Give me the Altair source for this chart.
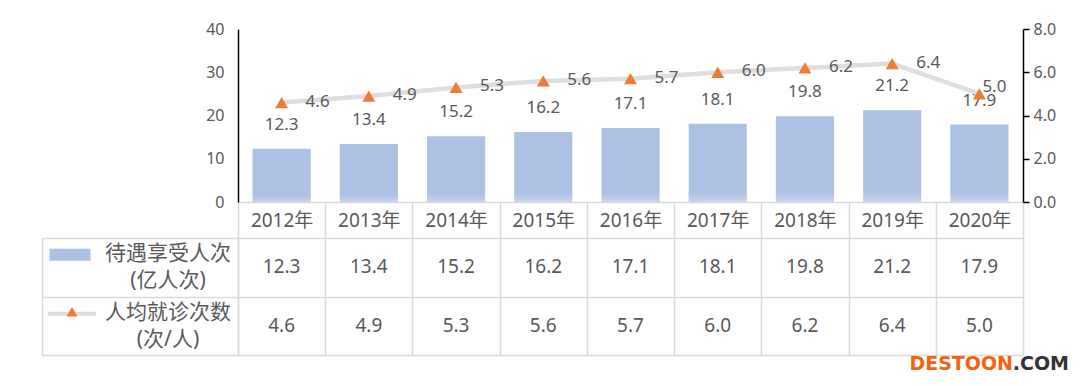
import altair as alt
import pandas as pd

years = ["2012年", "2013年", "2014年", "2015年", "2016年", "2017年", "2018年", "2019年", "2020年"]
visits = [12.3, 13.4, 15.2, 16.2, 17.1, 18.1, 19.8, 21.2, 17.9]
per_capita = [4.6, 4.9, 5.3, 5.6, 5.7, 6.0, 6.2, 6.4, 5.0]
row_keys = ["r1", "r2"]
row_labels = ["待遇享受人次\n(亿人次)", "人均就诊次数\n(次/人)"]
left_ticks = [0, 10, 20, 30, 40]
right_ticks = [0, 2, 4, 6, 8]

FONT = "Noto Sans, Noto Sans CJK SC"
TXT = "#595959"
GRID = "#d9d9d9"
ORANGE = "#ed7d31"
LINE = "#dedede"

W_PLOT, H_PLOT, W_LEG, H_TAB = 785, 173, 196, 117

df = pd.DataFrame({"year": years, "visits": visits, "pc": per_capita})
tab = pd.DataFrame({
    "year": years * 2,
    "row": [row_keys[0]] * len(years) + [row_keys[1]] * len(years),
    "v": visits + per_capita,
})
leg = pd.DataFrame({"row": row_keys, "label": row_labels, "col": ["c", "c"]})

xscale = alt.Scale(domain=years, paddingInner=0, paddingOuter=0)
xaxis_main = alt.Axis(
    title=None, orient="bottom", domainColor=GRID, domainWidth=1.5,
    ticks=True, tickBand="extent", tickSize=36, tickColor=GRID, tickWidth=1.5,
    labelPadding=-27, labelFontSize=19, labelColor=TXT, labelAngle=0,
    labelBaseline="top",
)


def XM():
    return alt.X("year:N", scale=xscale, axis=xaxis_main)


lscale = alt.Scale(domain=[0, 40], nice=False, zero=True)
laxis = alt.Axis(
    title=None, values=left_ticks, domainColor="#000000", domainWidth=1.5,
    ticks=False, labelPadding=14, grid=False, labelFontSize=16, labelColor=TXT,
)
rscale = alt.Scale(domain=[0, 8], nice=False, zero=True)
raxis = alt.Axis(
    title=None, orient="right", values=right_ticks, format=".1f",
    domainColor="#000000", domainWidth=1.5, tickColor="#000000", tickSize=6,
    tickWidth=1.5, labelPadding=4, grid=False, labelFontSize=16, labelColor=TXT,
)

base = alt.Chart(df)
bar_fill = alt.Gradient(
    gradient="linear",
    stops=[alt.GradientStop(color="#adc1e5", offset=0),
           alt.GradientStop(color="#adc1e5", offset=0.88),
           alt.GradientStop(color="#c8d5ee", offset=1)],
    x1=0, x2=0, y1=0, y2=1,
)
bars = base.mark_bar(width={"band": 0.667}, color=bar_fill).encode(
    x=XM(), y=alt.Y("visits:Q", scale=lscale, axis=laxis)
)
bar_txt = base.mark_text(dy=-24, baseline="middle", fontSize=17, color=TXT).encode(
    x=XM(), y=alt.Y("visits:Q", scale=lscale, axis=laxis),
    text=alt.Text("visits:Q", format=".1f"),
)
line = base.mark_line(color=LINE, strokeWidth=4.5).encode(
    x=XM(), y=alt.Y("pc:Q", scale=rscale, axis=raxis)
)
pts = base.mark_point(shape="triangle-up", size=169, filled=True, color=ORANGE, opacity=1).encode(
    x=XM(), y=alt.Y("pc:Q", scale=rscale, axis=raxis)
)
ltxt = base.mark_text(align="left", baseline="middle", dx=24, dy=-1, fontSize=17, color=TXT).encode(
    x=XM(), y=alt.Y("pc:Q", scale=rscale, axis=raxis),
    text=alt.Text("pc:Q", format=".1f"),
).transform_filter(alt.datum.year != years[-1])
ltxt_last = base.mark_text(align="left", baseline="middle", dx=3, dy=-7, fontSize=17, color=TXT).encode(
    x=XM(), y=alt.Y("pc:Q", scale=rscale, axis=raxis),
    text=alt.Text("pc:Q", format=".1f"),
).transform_filter(alt.datum.year == years[-1])

main = alt.layer(
    alt.layer(bars, bar_txt),
    alt.layer(line, pts, ltxt, ltxt_last),
).resolve_scale(y="independent").properties(width=W_PLOT, height=H_PLOT)

# ---- data table ----
gaxis = alt.Axis(
    title=None, labels=False, ticks=False, domain=False, grid=True,
    tickBand="extent", gridColor=GRID, gridWidth=1.5,
)
yscale_t = alt.Scale(domain=row_keys, paddingInner=0, paddingOuter=0)
tbase = alt.Chart(tab)
tab_txt = tbase.mark_text(fontSize=19, color=TXT, baseline="middle").encode(
    x=alt.X("year:N", scale=xscale, axis=gaxis),
    y=alt.Y("row:N", scale=yscale_t, axis=gaxis),
    text=alt.Text("v:Q", format=".1f"),
)
wm = pd.DataFrame({"t": ["DESTOON"]})
wm1 = alt.Chart(wm).mark_text(
    text="DESTOON", align="right", baseline="middle", fontSize=19, fontWeight="bold",
    color="#f5620f", font="DejaVu Sans",
).encode(x=alt.value(775), y=alt.value(126))
wm2 = alt.Chart(wm).mark_text(
    text=".COM", align="right", baseline="middle", fontSize=19, fontWeight="bold",
    color="#333333", font="DejaVu Sans",
).encode(x=alt.value(831), y=alt.value(126))
table = alt.layer(tab_txt, wm1, wm2).properties(width=W_PLOT, height=H_TAB)

# ---- legend column ----
lbase = alt.Chart(leg)
lx = alt.X("col:N", scale=alt.Scale(domain=["c"], paddingInner=0, paddingOuter=0), axis=gaxis)
ly = alt.Y("row:N", scale=yscale_t, axis=gaxis)
leg_txt = lbase.mark_text(lineBreak="\n", lineHeight=27, fontSize=21, color=TXT, dx=28, dy=-13,
                          baseline="middle").encode(x=lx, y=ly, text="label:N")
sw_bar = lbase.mark_point(
    shape="M-1,-0.903L1,-0.903L1,-0.317L-1,-0.317Z", size=1681, filled=True,
    color="#adc1e5", opacity=1,
).encode(x=alt.value(28), y=ly).transform_filter(alt.datum.row == row_keys[0])
sw_line = lbase.mark_point(
    shape="M-1,-0.58L1,-0.58L1,-0.42L-1,-0.42Z", size=2304, filled=True,
    color=LINE, opacity=1,
).encode(x=alt.value(30), y=ly).transform_filter(alt.datum.row == row_keys[1])
sw_tri = lbase.mark_point(
    shape="M0,-0.78L0.23,-0.39L-0.23,-0.39Z", size=2304, filled=True,
    color=ORANGE, opacity=1,
).encode(x=alt.value(30), y=ly).transform_filter(alt.datum.row == row_keys[1])
legend = alt.layer(leg_txt, sw_bar, sw_line, sw_tri).properties(width=W_LEG, height=H_TAB)

blank = alt.Chart(pd.DataFrame({"a": [0]})).mark_point(opacity=0).encode(
    x=alt.value(0), y=alt.value(0)
).properties(width=W_LEG, height=H_PLOT)

chart = alt.concat(
    blank, main, legend, table,
    columns=2, spacing={"row": 36, "column": 0}, bounds="flush",
).properties(
    padding={"left": 31, "top": 13, "right": 0, "bottom": 0}
).configure(font=FONT).configure_view(stroke=None)

chart.save("out.html", embed_options={"renderer": "svg", "actions": False})
